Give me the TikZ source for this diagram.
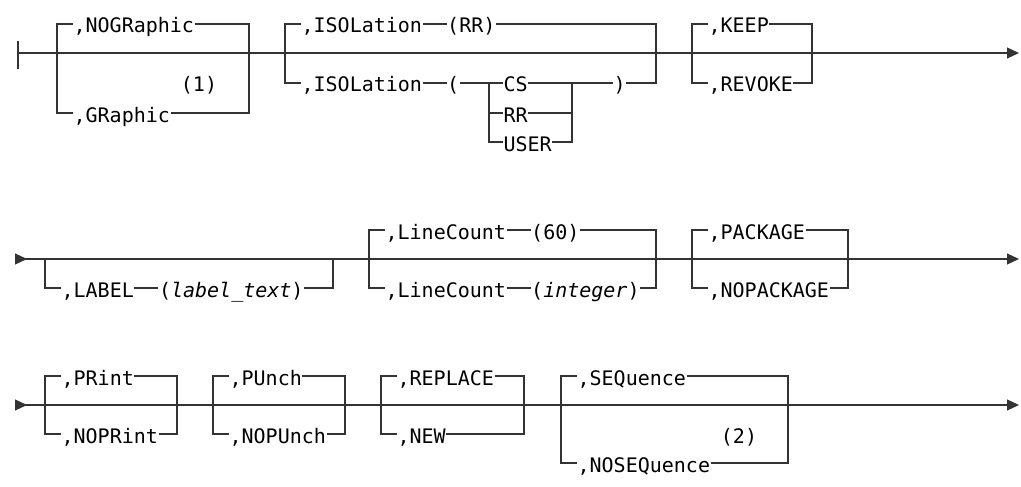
\documentclass[tikz,border=0pt]{standalone}
\usepackage{fontspec}
\setmonofont{DejaVu Sans Mono}[ItalicFont={DejaVu Sans Mono Oblique}]
\usetikzlibrary{arrows.meta, positioning}

\begin{document}
\begin{tikzpicture}[
    x=1pt, y=-1pt,
    line width=1.2pt,
    color=black!80,
    kw/.style={font=\ttfamily\fontsize{20}{20}\selectfont, text=black, inner sep=0pt, anchor=west, text height=18pt, text depth=0pt},
    note/.style={kw, anchor=center},
    tip/.style={-{Triangle[length=12pt, width=11pt]}},
    bothtips/.style={{Triangle[length=12pt, width=11pt, reversed]}-{Triangle[length=12pt, width=11pt]}}
]
    \useasboundingbox (0,0) rectangle (1021,487);

    % first row
    \coordinate (in1) at (18,53);
    \coordinate (out1) at (1019,53);
    \draw ([yshift=12pt]in1) -- ([yshift=-16pt]in1);
    \draw[tip] (in1) -- (out1);

    \coordinate (grl) at (57,53);
    \coordinate (grr) at (249,53);
    \node[kw] (nog) at (73,24) {,NOGRaphic};
    \node[kw] (gra) at (73,113) {,GRaphic};
    \node[note] (note1) at (199,83) {(1)};
    \draw (grl) |- (nog.west);
    \draw (nog.east) -| (grr);
    \draw (grl) |- (gra.west);
    \draw (gra.east) -| (grr);

    \coordinate (isol) at (285,53);
    \coordinate (isor) at (656,53);
    \node[kw] (isoA) at (301,24) {,ISOLation};
    \node[kw, right=24pt of isoA] (rrdef) {(RR)};
    \node[kw] (isoB) at (301,83) {,ISOLation};
    \node[kw, right=24pt of isoB] (lpar) {(};
    \coordinate (subl) at (489,83);
    \coordinate (subr) at (572,83);
    \node[kw] (cs) at (503,83) {CS};
    \node[kw] (rr) at (503,113) {RR};
    \node[kw] (user) at (503,142) {USER};
    \node[kw] (rpar) at (613,83) {)};
    \draw (isol) |- (isoA.west);
    \draw (isoA) -- (rrdef);
    \draw (rrdef.east) -| (isor);
    \draw (isol) |- (isoB.west);
    \draw (isoB) -- (lpar);
    \draw (lpar.east) -- (cs.west);
    \draw (cs.east) -- (rpar.west);
    \draw (subl) |- (user.west);
    \draw (subl |- rr) -- (rr.west);
    \draw (rr.east) -- (subr |- rr);
    \draw (user.east) -| (subr);
    \draw (rpar.east) -| (isor);

    \coordinate (keepl) at (692,53);
    \coordinate (keepr) at (812,53);
    \node[kw] (keep) at (708,24) {,KEEP};
    \node[kw] (revoke) at (708,83) {,REVOKE};
    \draw (keepl) |- (keep.west);
    \draw (keep.east) -| (keepr);
    \draw (keepl) |- (revoke.west);
    \draw (revoke.east) -| (keepr);

    % second row
    \coordinate (in2) at (15,259);
    \coordinate (out2) at (1019,259);
    \draw[bothtips] (in2) -- (out2);

    \coordinate (labl) at (45,259);
    \coordinate (labr) at (333,259);
    \node[kw] (lab) at (61,288) {,LABEL};
    \node[kw, right=24pt of lab] (labtext) {(\textit{label\_text})};
    \draw (labl) |- (lab.west);
    \draw (lab) -- (labtext);
    \draw (labtext.east) -| (labr);

    \coordinate (lcl) at (369,259);
    \coordinate (lcr) at (656,259);
    \node[kw] (lcA) at (385,230) {,LineCount};
    \node[kw, right=24pt of lcA] (sixty) {(60)};
    \node[kw] (lcB) at (385,288) {,LineCount};
    \node[kw, right=24pt of lcB] (intg) {(\textit{integer})};
    \draw (lcl) |- (lcA.west);
    \draw (lcA) -- (sixty);
    \draw (sixty.east) -| (lcr);
    \draw (lcl) |- (lcB.west);
    \draw (lcB) -- (intg);
    \draw (intg.east) -| (lcr);

    \coordinate (pkgl) at (692,259);
    \coordinate (pkgr) at (848,259);
    \node[kw] (pkg) at (708,230) {,PACKAGE};
    \node[kw] (nopkg) at (708,288) {,NOPACKAGE};
    \draw (pkgl) |- (pkg.west);
    \draw (pkg.east) -| (pkgr);
    \draw (pkgl) |- (nopkg.west);
    \draw (nopkg.east) -| (pkgr);

    % third row
    \coordinate (in3) at (15,405);
    \coordinate (out3) at (1019,405);
    \draw[bothtips] (in3) -- (out3);

    \coordinate (prl) at (45,405);
    \coordinate (prr) at (177,405);
    \node[kw] (prt) at (61,376) {,PRint};
    \node[kw] (noprt) at (61,434) {,NOPRint};
    \draw (prl) |- (prt.west);
    \draw (prt.east) -| (prr);
    \draw (prl) |- (noprt.west);
    \draw (noprt.east) -| (prr);

    \coordinate (pul) at (213,405);
    \coordinate (pur) at (345,405);
    \node[kw] (pun) at (229,376) {,PUnch};
    \node[kw] (nopun) at (229,434) {,NOPUnch};
    \draw (pul) |- (pun.west);
    \draw (pun.east) -| (pur);
    \draw (pul) |- (nopun.west);
    \draw (nopun.east) -| (pur);

    \coordinate (repl) at (381,405);
    \coordinate (repr) at (524,405);
    \node[kw] (replace) at (397,376) {,REPLACE};
    \node[kw] (new) at (397,434) {,NEW};
    \draw (repl) |- (replace.west);
    \draw (replace.east) -| (repr);
    \draw (repl) |- (new.west);
    \draw (new.east) -| (repr);

    \coordinate (seql) at (561,405);
    \coordinate (seqr) at (788,405);
    \node[kw] (seq) at (577,376) {,SEQuence};
    \node[kw] (noseq) at (577,463) {,NOSEQuence};
    \node[note] (note2) at (739,434) {(2)};
    \draw (seql) |- (seq.west);
    \draw (seq.east) -| (seqr);
    \draw (seql) |- (noseq.west);
    \draw (noseq.east) -| (seqr);
\end{tikzpicture}
\end{document}
